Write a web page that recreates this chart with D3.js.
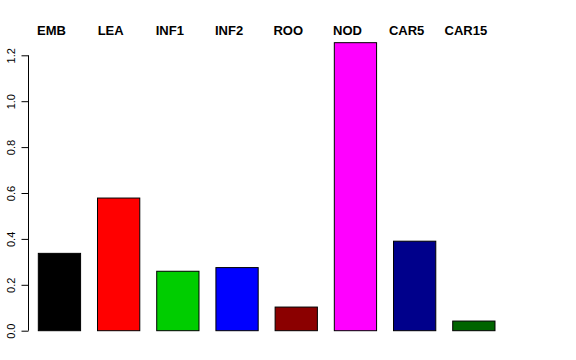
<!DOCTYPE html>
<html>
<head>
<meta charset="utf-8">
<script src="https://cdn.jsdelivr.net/npm/d3@7"></script>
<style>
  body { margin: 0; background: #fff; }
  svg { display: block; }
</style>
</head>
<body>
<svg id="chart" width="576" height="360"></svg>
<script>
// tissue groups and their values
var tissues = ["EMB", "LEA", "INF1", "INF2", "ROO", "NOD", "CAR5", "CAR15"];
var values = [0.337, 0.578, 0.259, 0.275, 0.103, 1.255, 0.390, 0.042];
var colors = ["#000000", "#ff0000", "#00cd00", "#0000ff", "#8b0000", "#ff00ff", "#00008b", "#006400"];
var yTicks = [0, 0.2, 0.4, 0.6, 0.8, 1.0, 1.2];

var svg = d3.select("#chart");

var x = d3
  .scaleBand()
  .domain(tissues)
  .range([29.85, 503.45])
  .paddingInner(0.286)
  .paddingOuter(0.143);

var y = d3.scaleLinear().domain([0, 1.2]).range([330.7, 55.3]);

// bars
svg
  .selectAll("rect.bar")
  .data(tissues)
  .enter()
  .append("rect")
  .attr("class", "bar")
  .attr("x", d => x(d))
  .attr("width", x.bandwidth())
  .attr("y", (d, i) => y(values[i]))
  .attr("height", (d, i) => y(0) - y(values[i]))
  .style("fill", (d, i) => colors[i])
  .style("stroke", "#000")
  .style("stroke-width", 1);

// labels on top
svg
  .selectAll("text.lab")
  .data(tissues)
  .enter()
  .append("text")
  .attr("class", "lab")
  .attr("x", d => x(d) + x.bandwidth() / 2 - 8)
  .attr("y", 34.5)
  .attr("text-anchor", "middle")
  .style("font-family", "Liberation Sans, Arial, sans-serif")
  .style("font-weight", "bold")
  .style("font-size", "13px")
  .text(d => d);

//// y axis, R style
var yAxis = d3
  .axisLeft(y)
  .tickValues(yTicks)
  .tickSize(7)
  .tickFormat(d3.format(".1f"));

var g = svg.append("g").attr("transform", "translate(28.5,0)").call(yAxis);
g.select(".domain").attr("d", "M0," + y(0) + "V" + y(1.2)).style("stroke", "#000");
g.selectAll(".tick line").style("stroke", "#000");
g.selectAll(".tick text")
  .attr("x", 0)
  .attr("y", 0)
  .attr("dy", 0)
  .attr("text-anchor", "middle")
  .attr("transform", "translate(-14,0) rotate(-90)")
  .style("font-family", "Liberation Sans, Arial, sans-serif")
  .style("font-size", "11px")
  .style("fill", "#000");
</script>
</body>
</html>
